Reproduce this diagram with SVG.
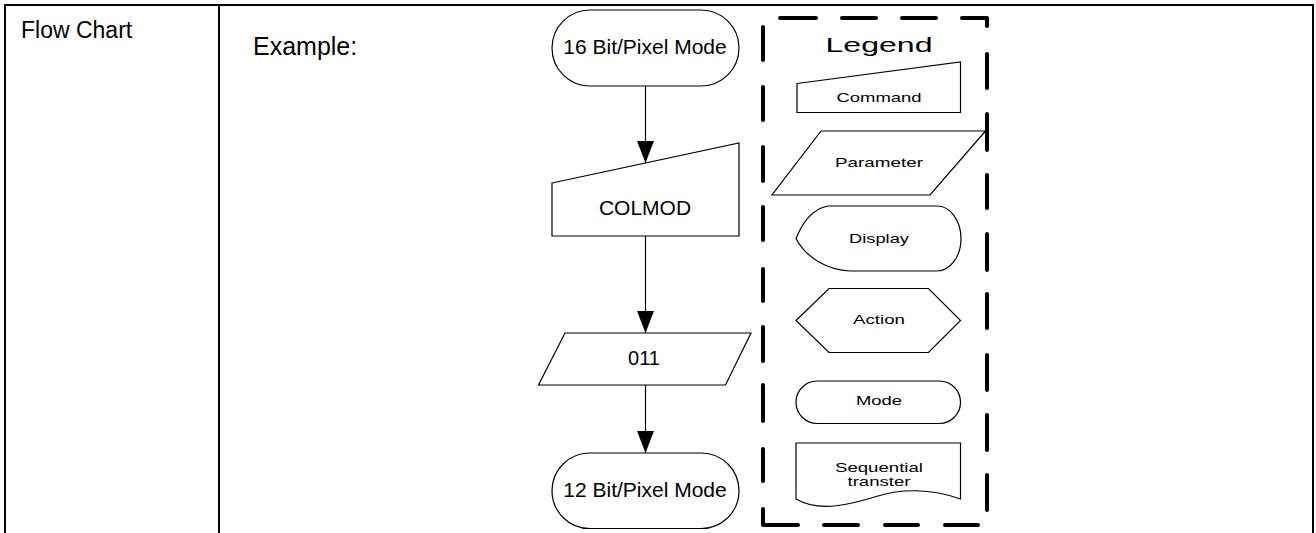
<svg xmlns="http://www.w3.org/2000/svg" width="1316" height="533" viewBox="0 0 1316 533">
<style>
.bd{stroke:#000;stroke-width:2;fill:none}
.sh{fill:#fff;stroke:#000;stroke-width:1.2}
.t{font-family:"Liberation Sans",Arial,sans-serif;fill:#000}
.lg{font-family:"Liberation Sans",Arial,sans-serif;font-size:13px;fill:#000;text-anchor:middle}
.cn{stroke:#000;stroke-width:1.2;fill:none}
.dash{stroke:#000;stroke-width:4;fill:none;stroke-linecap:round;stroke-linejoin:round}
</style>
<defs>
<marker id="ah" markerUnits="userSpaceOnUse" markerWidth="22" markerHeight="18" refX="22" refY="8.5" orient="auto">
<path d="M0,0 L22,8.5 L0,17 Z" fill="#000"/>
</marker>
</defs>
<rect width="1316" height="533" fill="#fff"/>
<g id="table">
<path class="bd" d="M5,533 V5 H1313 V533 M219,5 V533"/>
<text class="t" x="21" y="38" font-size="23">Flow Chart</text>
<text class="t" x="253" y="55" font-size="25">Example:</text>
</g>
<g id="connectors">
<line class="cn" x1="645.5" y1="86" x2="645.5" y2="163" marker-end="url(#ah)"/>
<line class="cn" x1="645.5" y1="236" x2="645.5" y2="333" marker-end="url(#ah)"/>
<line class="cn" x1="645.5" y1="385" x2="645.5" y2="453" marker-end="url(#ah)"/>
</g>
<g id="n16bit">
<rect class="sh" x="552" y="10" width="187" height="76" rx="38" ry="38"/>
<text class="t" x="645" y="54" font-size="21" text-anchor="middle">16 Bit/Pixel Mode</text>
</g>
<g id="colmod">
<path class="sh" d="M552,183 L739,143 L739,236 L552,236 Z"/>
<text class="t" x="645" y="215" font-size="21" text-anchor="middle">COLMOD</text>
</g>
<g id="p011">
<path class="sh" d="M565,333 L751,333 L725.5,385 L538.5,385 Z"/>
<text class="t" x="644" y="365" font-size="20" text-anchor="middle">011</text>
</g>
<g id="n12bit">
<rect class="sh" x="552" y="453" width="187" height="75.5" rx="37.7" ry="37.7"/>
<text class="t" x="645" y="497" font-size="21" text-anchor="middle">12 Bit/Pixel Mode</text>
</g>
<g id="legend">
<path class="dash" d="M780,18 H816 M842,18 H876 M902,18 H936 M962,18 H987 V26
M987,54 V88 M987,114 V150 M987,175 V208 M987,234 V270 M987,294 V328 M987,355 V390 M987,415 V450 M987,475 V510
M978,525 H945 M918,525 H885 M858,525 H824 M798,525 H763 V509
M763,481 V449 M763,421 V385 M763,361 V327 M763,301 V269 M763,240 V207 M763,181 V147 M763,120 V87 M763,60 V27"/>
<text class="t" x="879" y="52" font-size="20" text-anchor="middle" textLength="107" lengthAdjust="spacingAndGlyphs">Legend</text>
</g>
<g id="lg-command">
<path class="sh" d="M797,83.5 L960.5,62 L960.5,112.5 L797,112.5 Z"/>
<text class="lg" x="879" y="102" textLength="85" lengthAdjust="spacingAndGlyphs">Command</text>
</g>
<g id="lg-parameter">
<path class="sh" d="M821,131 L985.5,131 L930,195 L772,195 Z"/>
<text class="lg" x="879" y="167" textLength="88" lengthAdjust="spacingAndGlyphs">Parameter</text>
</g>
<g id="lg-display">
<path class="sh" d="M828,206 L937,206 A24,32.5 0 0 1 937,271 L850,271 C828,270 806,258 796,238.5 C803,222 812,209 828,206 Z"/>
<text class="lg" x="879" y="242.5" textLength="60" lengthAdjust="spacingAndGlyphs">Display</text>
</g>
<g id="lg-action">
<path class="sh" d="M796,320.5 L829,288.5 L928.5,288.5 L960.5,320.5 L928.5,352.5 L829,352.5 Z"/>
<text class="lg" x="879" y="323.5" textLength="52" lengthAdjust="spacingAndGlyphs">Action</text>
</g>
<g id="lg-mode">
<rect class="sh" x="796" y="381" width="164.5" height="42.5" rx="21.2" ry="21.2"/>
<text class="lg" x="879" y="405" textLength="46" lengthAdjust="spacingAndGlyphs">Mode</text>
</g>
<g id="lg-seq">
<path class="sh" d="M796,443 L960.5,443 L960.5,499 C930,488 900,489 878,496 C852,504 820,513 796,499 Z"/>
<text class="lg" x="879" y="471.5" textLength="88" lengthAdjust="spacingAndGlyphs">Sequential</text>
<text class="lg" x="879" y="485.5" textLength="63" lengthAdjust="spacingAndGlyphs">transter</text>
</g>
</svg>
